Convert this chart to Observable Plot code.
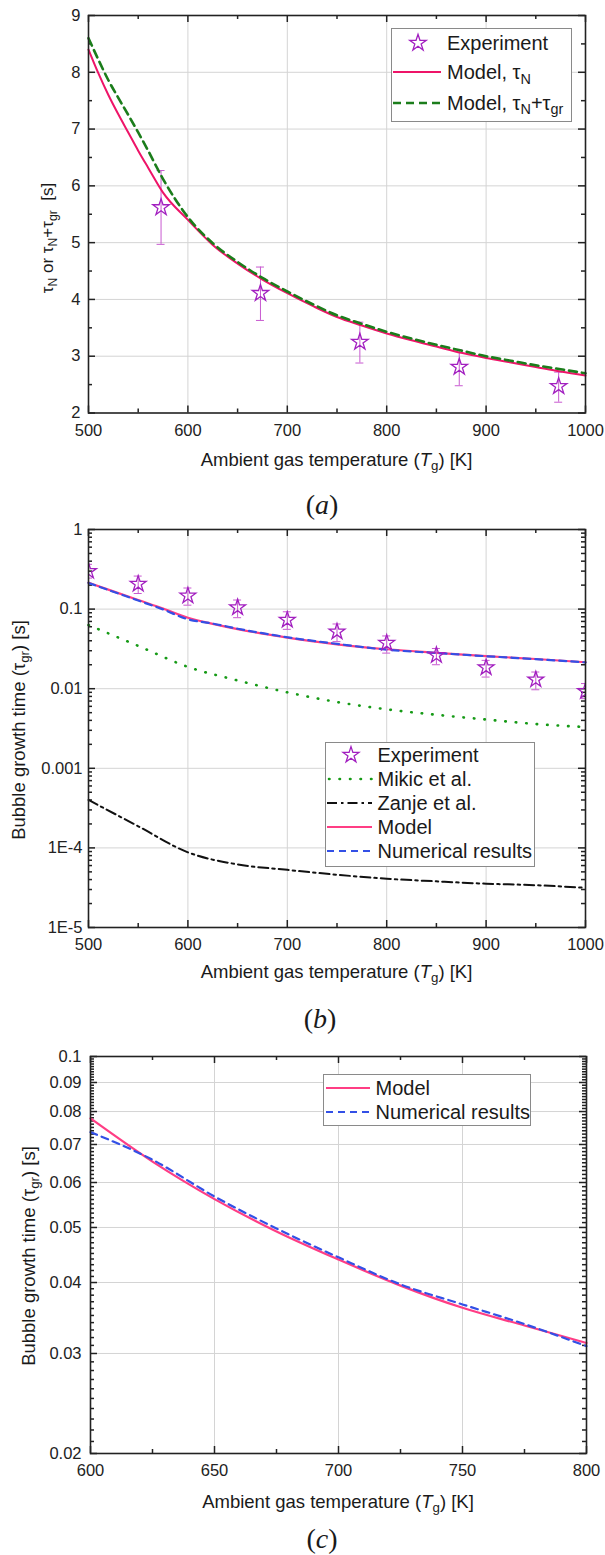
<!DOCTYPE html>
<html><head><meta charset="utf-8">
<script src="https://cdn.jsdelivr.net/npm/d3@7"></script>
<script src="https://cdn.jsdelivr.net/npm/@observablehq/plot@0.6"></script>
<style>
body{margin:0;background:#fff;}
#wrap{position:relative;width:605px;height:1555px;font-family:"Liberation Sans",Arial,sans-serif;color:#1a1a1a;overflow:hidden;}
.xt{position:absolute;text-align:center;font-size:18.5px;line-height:22px;white-space:nowrap;}
.yt{position:absolute;font-size:18.5px;line-height:22px;white-space:nowrap;transform:translate(-50%,-50%) rotate(-90deg);}
.cap{position:absolute;width:100px;text-align:center;font-family:"Liberation Serif","Times New Roman",serif;font-size:28px;line-height:30px;}
.sub{font-size:0.72em;position:relative;top:0.32em;}
.leg{position:absolute;background:#fff;border:1px solid #8a8a8a;box-sizing:border-box;}
.row{position:absolute;left:0;height:24px;width:100%;}
.row svg{position:absolute;left:0;top:0;overflow:visible;}
.row .lbl{position:absolute;top:0;font-size:20px;line-height:24px;white-space:nowrap;}
</style></head><body><div id="wrap"></div>
<script>
// ---------- Panel (a) data ----------
const aTemps  = [500,510,520,530,540,550,560,575,600,625,650,675,700,725,750,775,800,825,850,875,900,925,950,975,1000];
const aTauN   = [8.40,7.98,7.60,7.26,6.94,6.62,6.32,5.88,5.40,4.96,4.63,4.35,4.11,3.89,3.69,3.54,3.40,3.28,3.17,3.06,2.97,2.89,2.81,2.73,2.66];
const aTauNgr = [8.60,8.22,7.86,7.55,7.25,6.94,6.62,6.12,5.45,4.99,4.66,4.38,4.14,3.92,3.72,3.57,3.43,3.31,3.20,3.10,3.00,2.92,2.84,2.77,2.70];
const aExpT  = [573,673,773,873,973];
const aExpV  = [5.62,4.11,3.25,2.81,2.47];
const aExpLo = [4.97,3.63,2.88,2.48,2.19];
const aExpHi = [6.27,4.57,3.60,3.11,2.72];
const aXTicks = [500,600,700,800,900,1000];
const aXMinor = [550,650,750,850,950];
const aYTicks = [2,3,4,5,6,7,8,9];
const aYMinor = [2.5,3.5,4.5,5.5,6.5,7.5,8.5];

// ---------- Panel (b) data ----------
const bExpT  = [500,550,600,650,700,750,800,850,900,950,1000];
const bExpV  = [0.30,0.207,0.147,0.105,0.073,0.052,0.0375,0.0263,0.0185,0.013,0.0093];
const bExpLo = [0.245,0.157,0.112,0.078,0.0557,0.039,0.028,0.020,0.014,0.0097,0.0075];
const bExpHi = [0.365,0.26,0.184,0.13,0.0925,0.065,0.046,0.032,0.0227,0.0162,0.0116];
const bCurveT   = [500,550,600,650,700,750,800,850,900,950,1000];
const bMikic    = [0.063,0.0345,0.0188,0.0127,0.0090,0.0068,0.0055,0.0047,0.0041,0.0036,0.0033];
const bZanje    = [0.0004,0.000187,0.000088,0.000062,0.000053,0.000046,0.000041,0.000038,0.0000355,0.000034,0.0000315];
const bModelT   = [500,525,550,575,600,625,650,675,700,750,800,850,900,950,1000];
const bModel    = [0.215,0.167,0.130,0.1015,0.0778,0.0653,0.0561,0.0492,0.0439,0.0361,0.0313,0.0282,0.0257,0.0236,0.0215];
const bNumer    = [0.213,0.165,0.128,0.099,0.0745,0.0658,0.0567,0.0498,0.0443,0.0366,0.0309,0.0281,0.0256,0.0235,0.0214];
const bXTicks = [500,600,700,800,900,1000];
const bXMinor = [550,650,750,850,950];
const bYTicks = [1e-5,1e-4,1e-3,1e-2,1e-1,1];
const bYTickLabels = ["1E-5","1E-4","0.001","0.01","0.1","1"];

// ---------- Panel (c) data ----------
const cTemps = [600,625,650,675,700,725,750,775,800];
const cModel = [0.0778,0.0653,0.0561,0.0492,0.0439,0.0395,0.0361,0.0336,0.0313];
const cNumer = [0.0736,0.0658,0.0567,0.0498,0.0443,0.0397,0.0366,0.0338,0.0309];
const cXTicks = [600,650,700,750,800];
const cXMinor = [625,675,725,775];
const cYTicks = [0.02,0.03,0.04,0.05,0.06,0.07,0.08,0.09,0.1];
const cYTickLabels = ["0.02","0.03","0.04","0.05","0.06","0.07","0.08","0.09","0.1"];

// ---------- styles ----------
const INK = "#222";
const GRID = "#d4d4d4";
const PURPLE = "#a21fc0";
const ERRC = "#c85ad0";
const RED_A = "#ee1468";
const PINK = "#ff3d84";
const GREEN = "#1b7d1b";
const GREEN_DOT = "#169a16";
const BLUE = "#3350e6";

const wrap = document.getElementById("wrap");

// inward ticks on all four sides of the frame (fw, fh = frame width / height)
function frameTicks(xs, ys, fw, fh, len) {
  const o = {stroke: INK, strokeWidth: 1.5};
  return [
    Plot.tickX(xs, {x: d => d, insetTop: fh - len, ...o}),
    Plot.tickX(xs, {x: d => d, insetBottom: fh - len, ...o}),
    Plot.tickY(ys, {y: d => d, insetRight: fw - len, ...o}),
    Plot.tickY(ys, {y: d => d, insetLeft: fw - len, ...o})
  ];
}

function errMarks(T, V, lo, hi, r, clip) {
  const e = {stroke: ERRC, strokeWidth: 1, clip};
  return [
    Plot.ruleX(T, {x: T, y1: lo, y2: hi, ...e}),
    Plot.ruleY(T, {y: hi, x1: T, x2: T, insetLeft: -4, insetRight: -4, ...e}),
    Plot.ruleY(T, {y: lo, x1: T, x2: T, insetLeft: -4, insetRight: -4, ...e}),
    Plot.dot(T, {x: T, y: V, symbol: "star", r, stroke: PURPLE, fill: "none", strokeWidth: 1.3, clip})
  ];
}

function place(svg, top) {
  svg.style.position = "absolute";
  svg.style.left = "0px";
  svg.style.top = top + "px";
  svg.style.overflow = "visible";
  wrap.appendChild(svg);
}

function addHTML(cls, html, css) {
  const d = document.createElement("div");
  d.className = cls;
  d.innerHTML = html;
  Object.assign(d.style, css);
  wrap.appendChild(d);
  return d;
}

const common = {
  width: 605,
  style: {fontFamily: '"Liberation Sans", Arial, sans-serif', fontSize: "16.5px", color: INK, background: "transparent"}
};

// ---------- Panel (a) ----------
const plotA = Plot.plot({
  ...common,
  height: 480, marginLeft: 88, marginRight: 20, marginTop: 15, marginBottom: 67.5,
  x: {domain: [500, 1000], label: null},
  y: {domain: [2, 9], label: null},
  marks: [
    Plot.gridX({ticks: aXTicks.slice(1, -1), stroke: GRID, strokeOpacity: 1}),
    Plot.gridY({ticks: aYTicks.slice(1, -1), stroke: GRID, strokeOpacity: 1}),
    Plot.axisX({ticks: aXTicks, tickSize: 0, tickPadding: 11, tickFormat: d => String(d), label: null, fontSize: 16.5}),
    Plot.axisY({ticks: aYTicks, tickSize: 0, tickPadding: 8, tickFormat: d => String(d), label: null, fontSize: 16.5}),
    ...frameTicks(aXTicks, aYTicks, 497, 397.5, 7),
    ...frameTicks(aXMinor, aYMinor, 497, 397.5, 4),
    ...errMarks(aExpT, aExpV, aExpLo, aExpHi, 5.2, false),
    Plot.line(aTemps, {x: aTemps, y: aTauN, stroke: RED_A, strokeWidth: 2, curve: "monotone-x"}),
    Plot.line(aTemps, {x: aTemps, y: aTauNgr, stroke: GREEN, strokeWidth: 2.6, strokeDasharray: "8,5", curve: "monotone-x"}),
    Plot.frame({stroke: INK, strokeWidth: 1.6})
  ]
});
place(plotA, 0);

// ---------- Panel (b) ----------
const bYMinor = bYTicks.slice(0, -1).flatMap(p => [2,3,4,5,6,7,8,9].map(k => k * p));
const plotB = Plot.plot({
  ...common,
  height: 500, marginLeft: 88, marginRight: 20, marginTop: 29, marginBottom: 73,
  x: {domain: [500, 1000], label: null},
  y: {type: "log", domain: [1e-5, 1], label: null},
  marks: [
    Plot.gridX({ticks: bXTicks.slice(1, -1), stroke: GRID, strokeOpacity: 1}),
    Plot.gridY({ticks: bYTicks.slice(1, -1), stroke: GRID, strokeOpacity: 1}),
    Plot.axisX({ticks: bXTicks, tickSize: 0, tickPadding: 11, tickFormat: d => String(d), label: null, fontSize: 16.5}),
    Plot.axisY({ticks: bYTicks, tickSize: 0, tickPadding: 6, tickFormat: d => bYTickLabels[bYTicks.indexOf(d)], label: null, fontSize: 16.5}),
    ...frameTicks(bXTicks, bYTicks, 497, 398, 7),
    ...frameTicks(bXMinor, bYMinor, 497, 398, 4),
    Plot.line(bCurveT, {x: bCurveT, y: bMikic, stroke: GREEN_DOT, strokeWidth: 2.6, strokeDasharray: "0.5,10", strokeLinecap: "round", curve: "monotone-x"}),
    Plot.line(bCurveT, {x: bCurveT, y: bZanje, stroke: "#111", strokeWidth: 2, strokeDasharray: "10,4,2.5,4", curve: "monotone-x"}),
    Plot.line(bModelT, {x: bModelT, y: bModel, stroke: PINK, strokeWidth: 2.2, curve: "monotone-x"}),
    Plot.line(bModelT, {x: bModelT, y: bNumer, stroke: BLUE, strokeWidth: 2.2, strokeDasharray: "7,5", curve: "monotone-x"}),
    ...errMarks(bExpT, bExpV, bExpLo, bExpHi, 5, true),
    Plot.frame({stroke: INK, strokeWidth: 1.6})
  ]
});
place(plotB, 500);

// ---------- Panel (c) ----------
const cYMinor = d3.range(21, 100).filter(k => k % 10 !== 0).map(k => k / 1000);
const plotC = Plot.plot({
  ...common,
  height: 500, marginLeft: 90, marginRight: 19, marginTop: 26, marginBottom: 77,
  x: {domain: [600, 800], label: null},
  y: {type: "log", domain: [0.02, 0.1], label: null},
  marks: [
    Plot.gridX({ticks: cXTicks.slice(1, -1), stroke: GRID, strokeOpacity: 1}),
    Plot.gridY({ticks: cYTicks.slice(1, -1), stroke: GRID, strokeOpacity: 1}),
    Plot.axisX({ticks: cXTicks, tickSize: 0, tickPadding: 11, tickFormat: d => String(d), label: null, fontSize: 16.5}),
    Plot.axisY({ticks: cYTicks, tickSize: 0, tickPadding: 9, tickFormat: d => cYTickLabels[cYTicks.indexOf(d)], label: null, fontSize: 16.5}),
    ...frameTicks(cXTicks, cYTicks, 496, 397, 7),
    ...frameTicks(cXMinor, cYMinor, 496, 397, 4),
    Plot.line(cTemps, {x: cTemps, y: cModel, stroke: PINK, strokeWidth: 2.2, curve: "monotone-x"}),
    Plot.line(cTemps, {x: cTemps, y: cNumer, stroke: BLUE, strokeWidth: 2.2, strokeDasharray: "7,5", curve: "monotone-x"}),
    Plot.frame({stroke: INK, strokeWidth: 1.6})
  ]
});
place(plotC, 1030);

// ---------- axis titles and captions ----------
const xTitle = 'Ambient gas temperature (<i>T</i><span class="sub">g</span>) [K]';
addHTML("xt", xTitle, {left: "88px", width: "497px", top: (460 - 11) + "px"});
addHTML("xt", xTitle, {left: "88px", width: "497px", top: (972 - 11) + "px"});
addHTML("xt", xTitle, {left: "90px", width: "496px", top: (1502 - 11) + "px"});

addHTML("yt", 'τ<span class="sub">N</span> or τ<span class="sub">N</span>+τ<span class="sub">gr</span>&nbsp;&nbsp;[s]', {left: "48px", top: "238px", fontSize: "17px"});
addHTML("yt", 'Bubble growth time (τ<span class="sub">gr</span>) [s]', {left: "20px", top: "730px"});
addHTML("yt", 'Bubble growth time (τ<span class="sub">gr</span>) [s]', {left: "30px", top: "1256px"});

addHTML("cap", '(<i>a</i>)', {left: (322 - 50) + "px", top: (505 - 15) + "px"});
addHTML("cap", '(<i>b</i>)', {left: (320 - 50) + "px", top: (1019 - 15) + "px"});
addHTML("cap", '(<i>c</i>)', {left: (322 - 50) + "px", top: (1539 - 15) + "px"});

// ---------- legends ----------
function starSwatch(cx, r) {
  const p = d3.symbol(d3.symbolStar, Math.PI * r * r)();
  return `<svg width="60" height="24"><path d="${p}" transform="translate(${cx},12)" fill="none" stroke="${PURPLE}" stroke-width="1.3"/></svg>`;
}
function lineSwatch(x1, x2, color, width, dash, cap) {
  return `<svg width="60" height="24"><line x1="${x1}" x2="${x2}" y1="12" y2="12" stroke="${color}" stroke-width="${width}" ${dash ? `stroke-dasharray="${dash}"` : ""} ${cap ? `stroke-linecap="${cap}"` : ""}/></svg>`;
}
function legend(left, top, w, h, textLeft, rows) {
  const box = addHTML("leg", "", {left: left + "px", top: top + "px", width: w + "px", height: h + "px"});
  for (const r of rows) {
    const row = document.createElement("div");
    row.className = "row";
    row.style.top = (r.cy - 12 - 1) + "px";
    row.innerHTML = r.sw + `<span class="lbl" style="left:${textLeft}px">${r.label}</span>`;
    box.appendChild(row);
  }
}
legend(391, 27.5, 181, 94, 55, [
  {cy: 15.2, sw: starSwatch(26, 5.2), label: "Experiment"},
  {cy: 44.9, sw: lineSwatch(1, 49, RED_A, 2, null), label: 'Model, τ<span class="sub">N</span>'},
  {cy: 75.4, sw: lineSwatch(1, 49, GREEN, 2.6, "8,5"), label: 'Model, τ<span class="sub">N</span>+τ<span class="sub">gr</span>'}
]);
legend(324.5, 741.5, 210, 125, 52, [
  {cy: 13.8, sw: starSwatch(25, 5), label: "Experiment"},
  {cy: 37.8, sw: lineSwatch(3, 46, GREEN_DOT, 2.6, "0.5,10", "round"), label: "Mikic et al."},
  {cy: 61.8, sw: lineSwatch(1, 46, "#111", 2, "10,4,2.5,4"), label: "Zanje et al."},
  {cy: 85.6, sw: lineSwatch(1, 46, PINK, 2.2, null), label: "Model"},
  {cy: 109.6, sw: lineSwatch(1, 46, BLUE, 2.2, "7,5"), label: "Numerical results"}
]);
legend(322.5, 1074, 208, 52, 52, [
  {cy: 14, sw: lineSwatch(2, 46, PINK, 2.2, null), label: "Model"},
  {cy: 37.7, sw: lineSwatch(2, 46, BLUE, 2.2, "7,5"), label: "Numerical results"}
]);
</script>
</body></html>
